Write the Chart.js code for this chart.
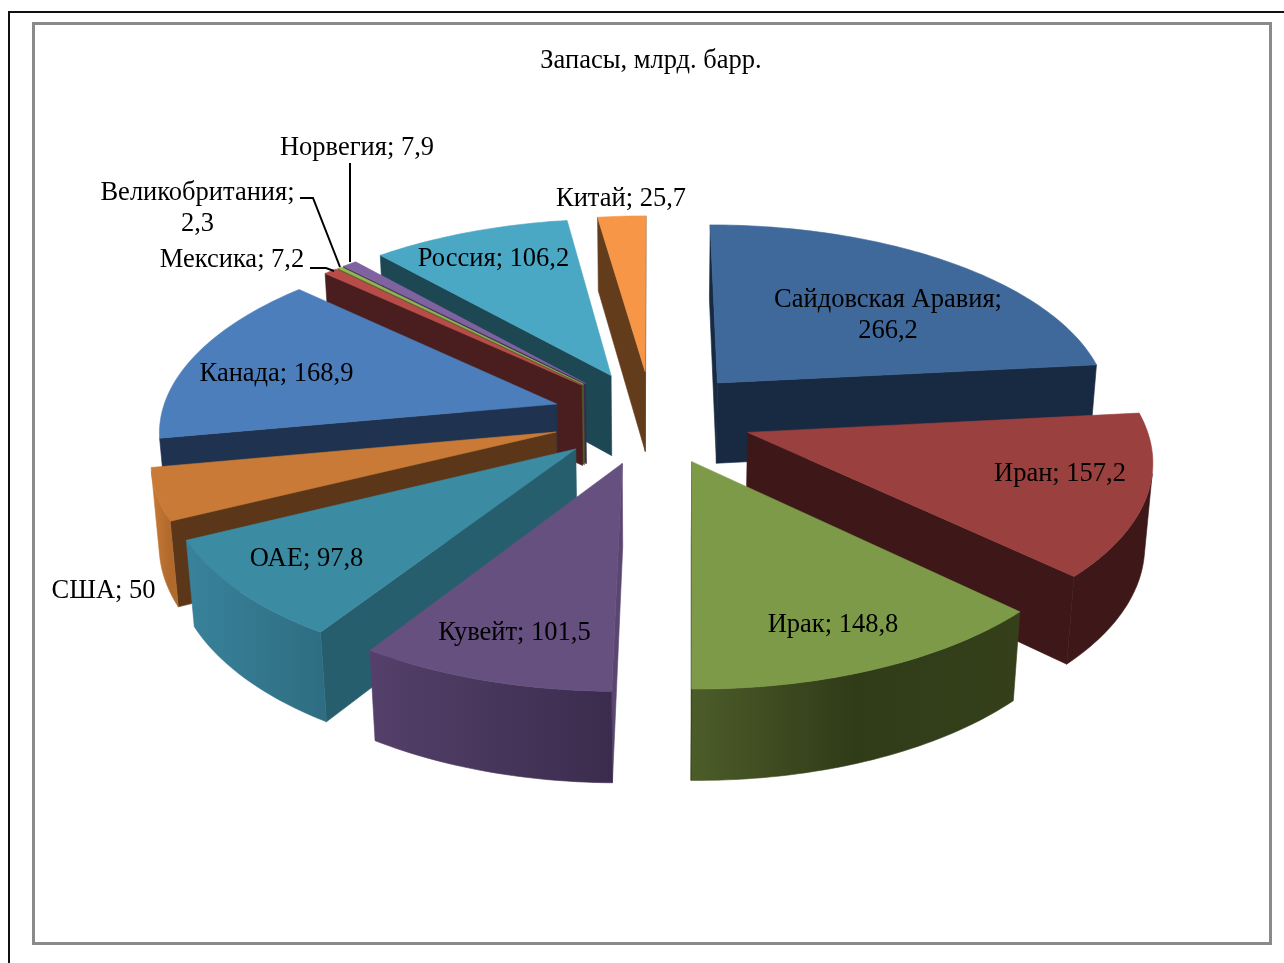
<!DOCTYPE html>
<html lang="ru">
<head>
<meta charset="utf-8">
<title>Запасы нефти</title>
<script src="https://cdn.jsdelivr.net/npm/chart.js@4"></script>
<style>
    html, body { margin: 0; padding: 0; background: #fff; overflow: hidden; }
    #wrap { position: relative; width: 1284px; height: 963px; }
    #outerLine { position: absolute; left: 8px; top: 11px; width: 1276px; height: 960px; border-left: 2px solid #111; border-top: 2px solid #111; box-sizing: border-box; }
    #frame { position: absolute; left: 32px; top: 22px; width: 1240px; height: 923px; border: 3px solid #8a8a8a; box-sizing: border-box; }
    canvas { position: absolute; left: 0; top: 0; }
</style>
</head>
<body>
<div id="wrap">
    <div id="outerLine"></div>
    <div id="frame"></div>
    <canvas id="myChart" width="1284" height="963"></canvas>
</div>
<script>
const categories = ['Сайдовская Аравия', 'Иран', 'Ирак', 'Кувейт', 'ОАЕ', 'США', 'Канада', 'Мексика', 'Великобритания', 'Норвегия', 'Россия', 'Китай'];
const reserves = [266.2, 157.2, 148.8, 101.5, 97.8, 50, 168.9, 7.2, 2.3, 7.9, 106.2, 25.7];
const chartTitle = 'Запасы, млрд. барр.';

// colours of the top face, the straight walls and the curved wall (start -> end of the arc)
const topColors = ['#3f689b', '#9a403f', '#7d9a48', '#66507f', '#3b8ba3', '#c97a36', '#4d7ebc', '#b94b48', '#93b552', '#7f63a1', '#4aa8c5', '#f79646'];
const sideColors = ['#182a41', '#3e1818', '#303c18', '#5b4671', '#265e6e', '#5b3618', '#1f3350', '#4a1e1e', '#4c5e28', '#3a2a4c', '#1e4754', '#633c1b'];
const curveColors = [
    ['#182a41', '#182a41'],
    ['#3e1818', '#3e1818'],
    ['#35401b', '#303b18', '#4c5c29'],
    ['#3b2c4d', '#54406a'],
    ['#2f6e82', '#38829b'],
    ['#b06a2c', '#c97a36'],
    ['#3b62a0', '#3b62a0'],
    ['#8c3836', '#8c3836'],
    ['#6f8a3c', '#6f8a3c'],
    ['#5f4a7a', '#5f4a7a'],
    ['#38809a', '#38809a'],
    ['#c07434', '#c07434']
];

// label centres and leader lines
const labelBreaks = { 'Сайдовская Аравия': true, 'Великобритания': true };
const labelCenters = [[888, 300], [1060, 474], [833, 625], [514.5, 633], [306.5, 559], [103.5, 591], [276.5, 374], [232, 260], [197.5, 193], [357, 148], [493.5, 259], [621, 199]];
const leaderLines = [
    [[310, 268], [326, 268], [334, 271]],
    [[300, 198], [313, 198], [340, 267]],
    [[350, 163], [350, 262]]
];

// perspective of the tilted pie
const CX = 652, CY = 417, TILT = 0.47, PERSP = 0.00032, DEPTH = 83, DEPTH_PERSP = 0.016;

function project(px, py, z) {
    const w = 1 - PERSP * py + z * DEPTH_PERSP;
    return { x: CX + px / w, y: CY + (TILT * py + z * DEPTH) / w };
}

function fillPoly(ctx, pts, color) {
    ctx.beginPath();
    pts.forEach((p, i) => i ? ctx.lineTo(p.x, p.y) : ctx.moveTo(p.x, p.y));
    ctx.closePath();
    ctx.fillStyle = color;
    ctx.strokeStyle = color;
    ctx.lineWidth = 0.6;
    ctx.fill();
    ctx.stroke();
}

function polyArea(pts) {
    let s = 0;
    pts.forEach((p, i) => {
        const q = pts[(i + 1) % pts.length];
        s += p.x * q.y - q.x * p.y;
    });
    return s / 2;
}

// outline of one slice on the pie plane, taken from the arc element
function sliceOutline(arc) {
    const { startAngle, endAngle, outerRadius } = arc.getProps(['startAngle', 'endAngle', 'outerRadius']);
    const mid = (startAngle + endAngle) / 2;
    const ox = Math.cos(mid) * arc.options.offset;
    const oy = Math.sin(mid) * arc.options.offset;
    const steps = Math.max(2, Math.ceil((endAngle - startAngle) / 0.02));
    const rim = [];
    for (let i = 0; i <= steps; i++) {
        const a = startAngle + (endAngle - startAngle) * i / steps;
        rim.push({ px: ox + Math.cos(a) * outerRadius, py: oy + Math.sin(a) * outerRadius });
    }
    return { apex: { px: ox, py: oy }, rim, mid, sortY: oy + Math.sin(mid) * outerRadius * 0.6 };
}

function wallQuad(a, b) {
    return [project(a.px, a.py, 0), project(b.px, b.py, 0), project(b.px, b.py, 1), project(a.px, a.py, 1)];
}

function drawWall(ctx, a, b, color) {
    const quad = wallQuad(a, b);
    if (polyArea(quad) < 0) fillPoly(ctx, quad, color);
}

// the visible part of the curved wall is one polygon with a gradient along the arc
function drawCurvedWall(ctx, rim, stops) {
    const first = project(rim[0].px, rim[0].py, 0);
    const end = project(rim[rim.length - 1].px, rim[rim.length - 1].py, 0);
    const gradient = ctx.createLinearGradient(first.x, 0, end.x, 0);
    stops.forEach((c, i) => gradient.addColorStop(i / (stops.length - 1), c));

    let run = [];
    const flush = () => {
        if (run.length > 1) {
            const tops = run.map(p => project(p.px, p.py, 0));
            const bottoms = run.map(p => project(p.px, p.py, 1)).reverse();
            fillPoly(ctx, tops.concat(bottoms), gradient);
        }
        run = [];
    };
    for (let k = 0; k < rim.length - 1; k++) {
        if (polyArea(wallQuad(rim[k], rim[k + 1])) < 0) {
            if (!run.length) run.push(rim[k]);
            run.push(rim[k + 1]);
        } else {
            flush();
        }
    }
    flush();
}

const pie3d = {
    id: 'pie3d',
    beforeDatasetsDraw(chart) {
        const ctx = chart.ctx;
        const arcs = chart.getDatasetMeta(0).data;
        const slices = arcs.map((arc, index) => Object.assign(sliceOutline(arc), { index }));
        slices.sort((a, b) => a.sortY - b.sortY);

        ctx.save();
        slices.forEach(s => {
            const i = s.index;
            const last = s.rim.length - 1;
            drawWall(ctx, s.apex, s.rim[0], sideColors[i]);
            drawCurvedWall(ctx, s.rim, curveColors[i]);
            drawWall(ctx, s.rim[last], s.apex, sideColors[i]);
            const top = [s.apex].concat(s.rim).map(p => project(p.px, p.py, 0));
            fillPoly(ctx, top, topColors[i]);
        });
        ctx.restore();
        return false;
    },
    afterDraw(chart) {
        const ctx = chart.ctx;
        ctx.save();
        ctx.strokeStyle = '#000';
        ctx.lineWidth = 2;
        leaderLines.forEach(line => {
            ctx.beginPath();
            line.forEach((p, i) => i ? ctx.lineTo(p[0], p[1]) : ctx.moveTo(p[0], p[1]));
            ctx.stroke();
        });
        ctx.fillStyle = '#000';
        ctx.font = '26.5px "Liberation Serif"';
        ctx.textAlign = 'center';
        ctx.textBaseline = 'middle';
        categories.forEach((name, i) => {
            const value = String(reserves[i]).replace('.', ',');
            const [x, y] = labelCenters[i];
            if (labelBreaks[name]) {
                ctx.fillText(name + ';', x, y);
                ctx.fillText(value, x, y + 31);
            } else {
                ctx.fillText(name + '; ' + value, x, y);
            }
        });
        ctx.restore();
    }
};

new Chart(document.getElementById('myChart').getContext('2d'), {
    type: 'pie',
    data: {
        labels: categories,
        datasets: [{ data: reserves, backgroundColor: topColors, borderWidth: 0, offset: 100 }]
    },
    options: {
        responsive: false,
        animation: false,
        radius: 396,
        layout: { padding: { left: 18, top: 45 } },
        plugins: {
            legend: { display: false },
            tooltip: { enabled: false },
            title: {
                display: true,
                text: chartTitle,
                color: '#000',
                font: { family: '"Liberation Serif"', size: 26.5, weight: 'normal' },
                padding: { top: 0, bottom: 0 }
            }
        }
    },
    plugins: [pie3d]
});
</script>
</body>
</html>
